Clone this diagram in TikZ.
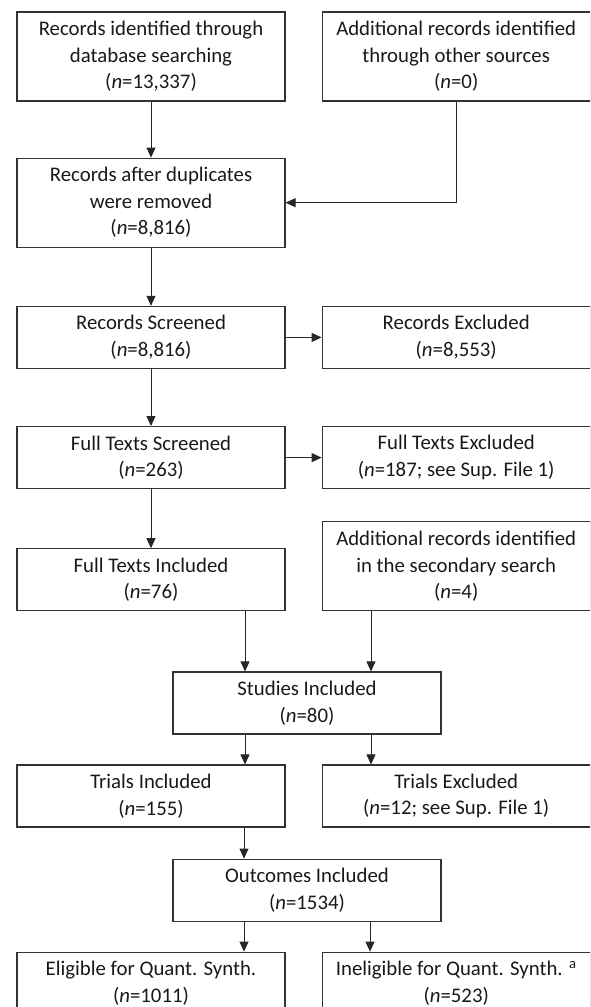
\documentclass[tikz,border=0pt]{standalone}
\usepackage{fontspec}
\setmainfont{Carlito}
\usepackage{tikz}
\usetikzlibrary{arrows.meta,positioning}

\begin{document}
\begin{tikzpicture}[node distance=36pt, every node/.style={font=\fontsize{20.8}{26.5}\selectfont, text=black!90}, box/.style={rectangle, draw=black!80, line width=1.2pt, minimum width=268pt, minimum height=62pt, align=center, inner sep=2pt}, tallbox/.style={box, minimum height=89pt}, arr/.style={-{Triangle[length=10pt,width=9pt]}, line width=0.8pt, draw=black!85}]
\path[use as bounding box, clip] (0,0) rectangle (590pt,-1007pt);
\node[tallbox] (a) at (151pt,-56.5pt) {Records identified through\\database searching\\(\textit{n}=13,337)};
\node[tallbox, right=of a] (b) {Additional records identified\\through other sources\\(\textit{n}=0)};
\node[tallbox, below=56pt of a] (c) {Records after duplicates\\were removed\\(\textit{n}=8,816)};
\node[box, below=58pt of c] (d) {Records Screened\\(\textit{n}=8,816)};
\node[box, right=of d] (e) {Records Excluded\\(\textit{n}=8,553)};
\node[box, below=57pt of d] (f) {Full Texts Screened\\(\textit{n}=263)};
\node[box, right=of f] (g) {Full Texts Excluded\\(\textit{n}=187; see Sup. File 1)};
\node[box, below=59pt of f] (h) {Full Texts Included\\(\textit{n}=76)};
\node[tallbox, anchor=south west] (i) at ([xshift=36pt]h.south east) {Additional records identified\\in the secondary search\\(\textit{n}=4)};
\node[box, below=60pt of h, xshift=156pt] (j) {Studies Included\\(\textit{n}=80)};
\node[box, below=153pt of h] (k) {Trials Included\\(\textit{n}=155)};
\node[box, right=of k] (l) {Trials Excluded\\(\textit{n}=12; see Sup. File 1)};
\node[box, below=124pt of j] (m) {Outcomes Included\\(\textit{n}=1534)};
\node[box, below=124pt of k] (n) {Eligible for Quant. Synth.\\(\textit{n}=1011)};
\node[box, right=of n] (o) {Ineligible for Quant. Synth. \textsuperscript{a}\\(\textit{n}=523)};
\draw[arr] (a) -- (c); \draw[arr] (b.south) |- (c.east);
\draw[arr] (c) -- (d); \draw[arr] (d.east) -- (d.east -| e.west);
\draw[arr] (d) -- (f); \draw[arr] (f.east) -- (f.east -| g.west);
\draw[arr] (f) -- (h);
\draw[arr] ([xshift=-62pt]j.north |- h.south) -- ([xshift=-62pt]j.north);
\draw[arr] ([xshift=64pt]j.north |- i.south) -- ([xshift=64pt]j.north);
\draw[arr] ([xshift=-62pt]j.south) -- ([xshift=-62pt]j.south |- k.north);
\draw[arr] ([xshift=64pt]j.south) -- ([xshift=64pt]j.south |- l.north);
\draw[arr] ([xshift=-63pt]m.north |- k.south) -- ([xshift=-63pt]m.north);
\draw[arr] ([xshift=-63pt]m.south) -- ([xshift=-63pt]m.south |- n.north);
\draw[arr] ([xshift=63pt]m.south) -- ([xshift=63pt]m.south |- o.north);
\end{tikzpicture}
\end{document}
